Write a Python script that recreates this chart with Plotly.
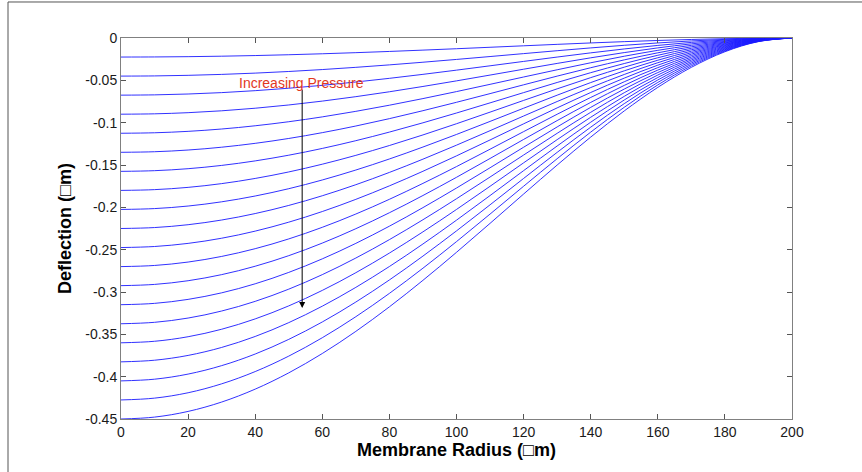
import plotly.graph_objects as go

# Radial positions across the membrane (µm)
radius = [0, 10, 20, 30, 40, 50, 60, 70, 80, 90, 100,
          110, 120, 130, 140, 150, 160, 170, 180, 190, 200]

# Normalised deflection profile of the clamped membrane (centre = 1, edge = 0)
profile = [1.0, 0.995, 0.9801, 0.9555, 0.9216, 0.8789, 0.8281, 0.7700,
           0.7056, 0.6360, 0.5625, 0.4865, 0.4096, 0.3335, 0.2601, 0.1914,
           0.1296, 0.0770, 0.0361, 0.0095, 0.0]

# Centre deflection for each applied pressure step (µm)
center_deflection = [-0.0225, -0.045, -0.0675, -0.09, -0.1125, -0.135,
                     -0.1575, -0.18, -0.2025, -0.225, -0.2475, -0.27,
                     -0.2925, -0.315, -0.3375, -0.36, -0.3825, -0.405,
                     -0.4275, -0.45]

y_ticks = [0, -0.05, -0.1, -0.15, -0.2, -0.25, -0.3, -0.35, -0.4, -0.45]
y_tick_text = ["0", "-0.05", "-0.1", "-0.15", "-0.2", "-0.25",
               "-0.3", "-0.35", "-0.4", "-0.45"]
x_ticks = [0, 20, 40, 60, 80, 100, 120, 140, 160, 180, 200]

fig = go.Figure()
for w0 in center_deflection:
    fig.add_trace(go.Scatter(
        x=radius,
        y=[w0 * p for p in profile],
        mode="lines",
        line=dict(color="#1a1aff", width=0.9, shape="spline", smoothing=1.0),
        showlegend=False,
        hoverinfo="skip",
    ))

font_family = "Liberation Sans, Arial, sans-serif"
axis_style = dict(
    showline=True, linecolor="#808080", linewidth=1, mirror="ticks",
    ticks="inside", ticklen=5, tickcolor="#555555", tickwidth=1,
    showgrid=False, zeroline=False,
    tickfont=dict(family=font_family, size=14, color="#1a1a1a"),
)

fig.update_xaxes(
    range=[0, 200], tickvals=x_ticks,
    title=dict(text="<b>Membrane Radius (□m)</b>", standoff=2,
               font=dict(family=font_family, size=18, color="#000000")),
    **axis_style,
)
fig.update_yaxes(
    range=[-0.45, 0], tickvals=y_ticks, ticktext=y_tick_text,
    title=dict(text="<b>Deflection (□m)</b>", standoff=8,
               font=dict(family=font_family, size=18, color="#000000")),
    **axis_style,
)

# Pressure-direction arrow and its label
fig.add_annotation(
    x=54, y=-0.319, ax=54, ay=-0.059, xref="x", yref="y",
    axref="x", ayref="y", text="", showarrow=True,
    arrowhead=2, arrowsize=1.2, arrowwidth=1, arrowcolor="#000000",
)
fig.add_annotation(
    x=53.8, y=-0.053, xref="x", yref="y", text="Increasing Pressure",
    showarrow=False, font=dict(family=font_family, size=14, color="#e2381e"),
)

# Thin frame along the top and left edges of the page
fig.add_shape(type="line", xref="paper", yref="paper",
              x0=-0.1684, x1=1.11, y0=1.0945, y1=1.0945,
              line=dict(color="#555555", width=1))
fig.add_shape(type="line", xref="paper", yref="paper",
              x0=-0.1684, x1=-0.1684, y0=-0.15, y1=1.0945,
              line=dict(color="#555555", width=1))

fig.update_layout(
    width=862, height=472,
    margin=dict(l=121, r=70, t=38, b=53, autoexpand=False),
    paper_bgcolor="#ffffff", plot_bgcolor="#ffffff",
    font=dict(family=font_family),
)

fig.write_html("out.html")
